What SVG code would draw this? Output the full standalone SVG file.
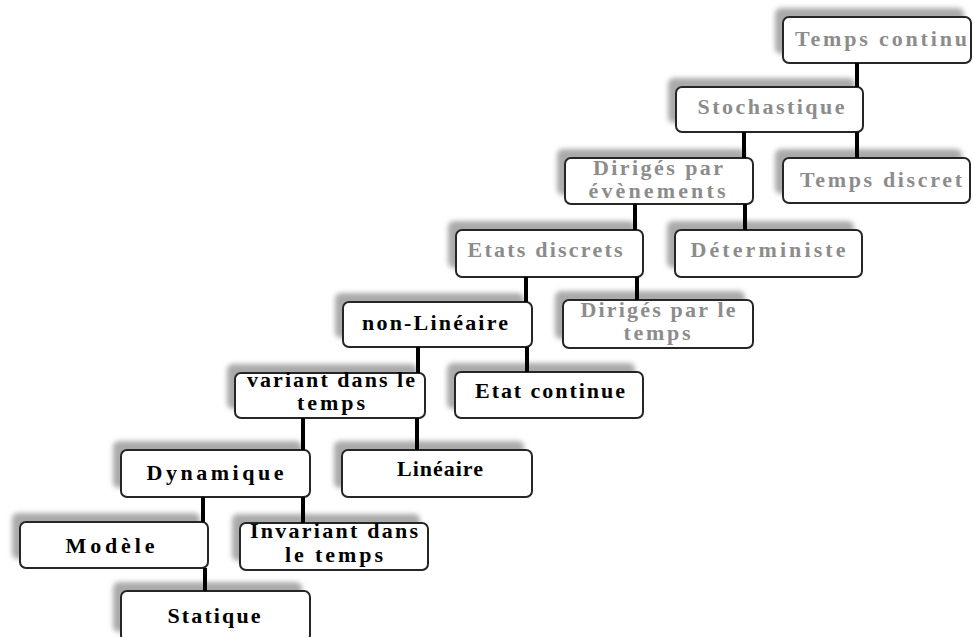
<svg xmlns="http://www.w3.org/2000/svg" width="973" height="637" viewBox="0 0 973 637">
<defs>
<filter id="sh" x="-20%" y="-40%" width="140%" height="180%"><feGaussianBlur stdDeviation="2.5"/></filter>
</defs>
<style>
.s{fill:#aaa;filter:url(#sh)}
.b{fill:#fff;stroke:#262626;stroke-width:2}
text{font-family:"Liberation Serif","Times New Roman",serif;font-weight:bold;font-size:22px;text-anchor:middle}
.k{fill:#000}
.g{fill:#8c8c8c}
.c line{stroke:#000;stroke-width:4}
</style>
<rect width="973" height="637" fill="#fff"/>

<g id="temps-continu"><rect class="s" x="775" y="8" width="189" height="46" rx="6"/><rect class="b" x="783" y="17" width="188" height="46" rx="6"/><text class="g" x="881" y="46" textLength="172" lengthAdjust="spacing">Temps continu</text></g>
<g id="stochastique"><rect class="s" x="668" y="78" width="187" height="45" rx="6"/><rect class="b" x="676" y="87" width="187" height="45" rx="6"/><text class="g" x="771" y="114" textLength="147" lengthAdjust="spacing">Stochastique</text></g>
<g id="temps-discret"><rect class="s" x="775" y="149" width="187" height="45" rx="6"/><rect class="b" x="783" y="158" width="187" height="45" rx="6"/><text class="g" x="881" y="187" textLength="162" lengthAdjust="spacing">Temps discret</text></g>
<g id="diriges-evenements"><rect class="s" x="557" y="149" width="188" height="46" rx="6"/><rect class="b" x="565" y="158" width="188" height="46" rx="6"/><text class="g" x="658" y="175" textLength="130" lengthAdjust="spacing">Dirigés par</text><text class="g" x="657" y="198" textLength="137" lengthAdjust="spacing">évènements</text></g>
<g id="deterministe"><rect class="s" x="667" y="221" width="187" height="47" rx="6"/><rect class="b" x="675" y="230" width="187" height="47" rx="6"/><text class="g" x="768" y="257" textLength="155" lengthAdjust="spacing">Déterministe</text></g>
<g id="etats-discrets"><rect class="s" x="448" y="221" width="187" height="47" rx="6"/><rect class="b" x="456" y="230" width="187" height="47" rx="6"/><text class="g" x="545" y="257" textLength="155" lengthAdjust="spacing">Etats  discrets</text></g>
<g id="diriges-temps"><rect class="s" x="555" y="291" width="190" height="48" rx="6"/><rect class="b" x="563" y="300" width="190" height="48" rx="6"/><text class="g" x="658" y="317" textLength="155" lengthAdjust="spacing">Dirigés par le</text><text class="g" x="657" y="340" textLength="67" lengthAdjust="spacing">temps</text></g>
<g id="non-lineaire"><rect class="s" x="335" y="293" width="189" height="45" rx="6"/><rect class="b" x="343" y="302" width="189" height="45" rx="6"/><text class="k" x="435" y="330" textLength="146" lengthAdjust="spacing">non-Linéaire</text></g>
<g id="etat-continue"><rect class="s" x="447" y="363" width="188" height="46" rx="6"/><rect class="b" x="455" y="372" width="188" height="46" rx="6"/><text class="k" x="550" y="398" textLength="150" lengthAdjust="spacing">Etat continue</text></g>
<g id="variant"><rect class="s" x="227" y="364" width="190" height="45" rx="6"/><rect class="b" x="235" y="373" width="190" height="45" rx="6"/><text class="k" x="331" y="387" textLength="168" lengthAdjust="spacing">variant dans le</text><text class="k" x="331" y="410" textLength="68" lengthAdjust="spacing">temps</text></g>
<g id="lineaire"><rect class="s" x="334" y="441" width="190" height="47" rx="6"/><rect class="b" x="342" y="450" width="190" height="47" rx="6"/><text class="k" x="440" y="476" textLength="86" lengthAdjust="spacing">Linéaire</text></g>
<g id="dynamique"><rect class="s" x="113" y="441" width="189" height="47" rx="6"/><rect class="b" x="121" y="450" width="189" height="47" rx="6"/><text class="k" x="215" y="480" textLength="137" lengthAdjust="spacing">Dynamique</text></g>
<g id="modele"><rect class="s" x="12" y="513" width="188" height="46" rx="6"/><rect class="b" x="20" y="522" width="188" height="46" rx="6"/><text class="k" x="110" y="553" textLength="89" lengthAdjust="spacing">Modèle</text></g>
<g id="invariant"><rect class="s" x="232" y="514" width="188" height="47" rx="6"/><rect class="b" x="240" y="523" width="188" height="47" rx="6"/><text class="k" x="334" y="538" textLength="168" lengthAdjust="spacing">Invariant dans</text><text class="k" x="334" y="562" textLength="98" lengthAdjust="spacing">le temps</text></g>
<g id="statique"><rect class="s" x="113" y="582" width="189" height="50" rx="6"/><rect class="b" x="121" y="591" width="189" height="50" rx="6"/><text class="k" x="214" y="623" textLength="93" lengthAdjust="spacing">Statique</text></g>

<g id="connectors" class="c">
<line x1="857" y1="63" x2="857" y2="87"/>
<line x1="744" y1="132" x2="744" y2="158"/>
<line x1="857" y1="132" x2="857" y2="158"/>
<line x1="635" y1="204" x2="635" y2="230"/>
<line x1="745" y1="204" x2="745" y2="230"/>
<line x1="526" y1="277" x2="526" y2="302"/>
<line x1="637" y1="277" x2="637" y2="300"/>
<line x1="418" y1="347" x2="418" y2="373"/>
<line x1="527" y1="347" x2="527" y2="372"/>
<line x1="303" y1="418" x2="303" y2="450"/>
<line x1="417" y1="418" x2="417" y2="450"/>
<line x1="203" y1="497" x2="203" y2="522"/>
<line x1="303" y1="497" x2="303" y2="523"/>
<line x1="205" y1="568" x2="205" y2="591"/>
</g>
</svg>
